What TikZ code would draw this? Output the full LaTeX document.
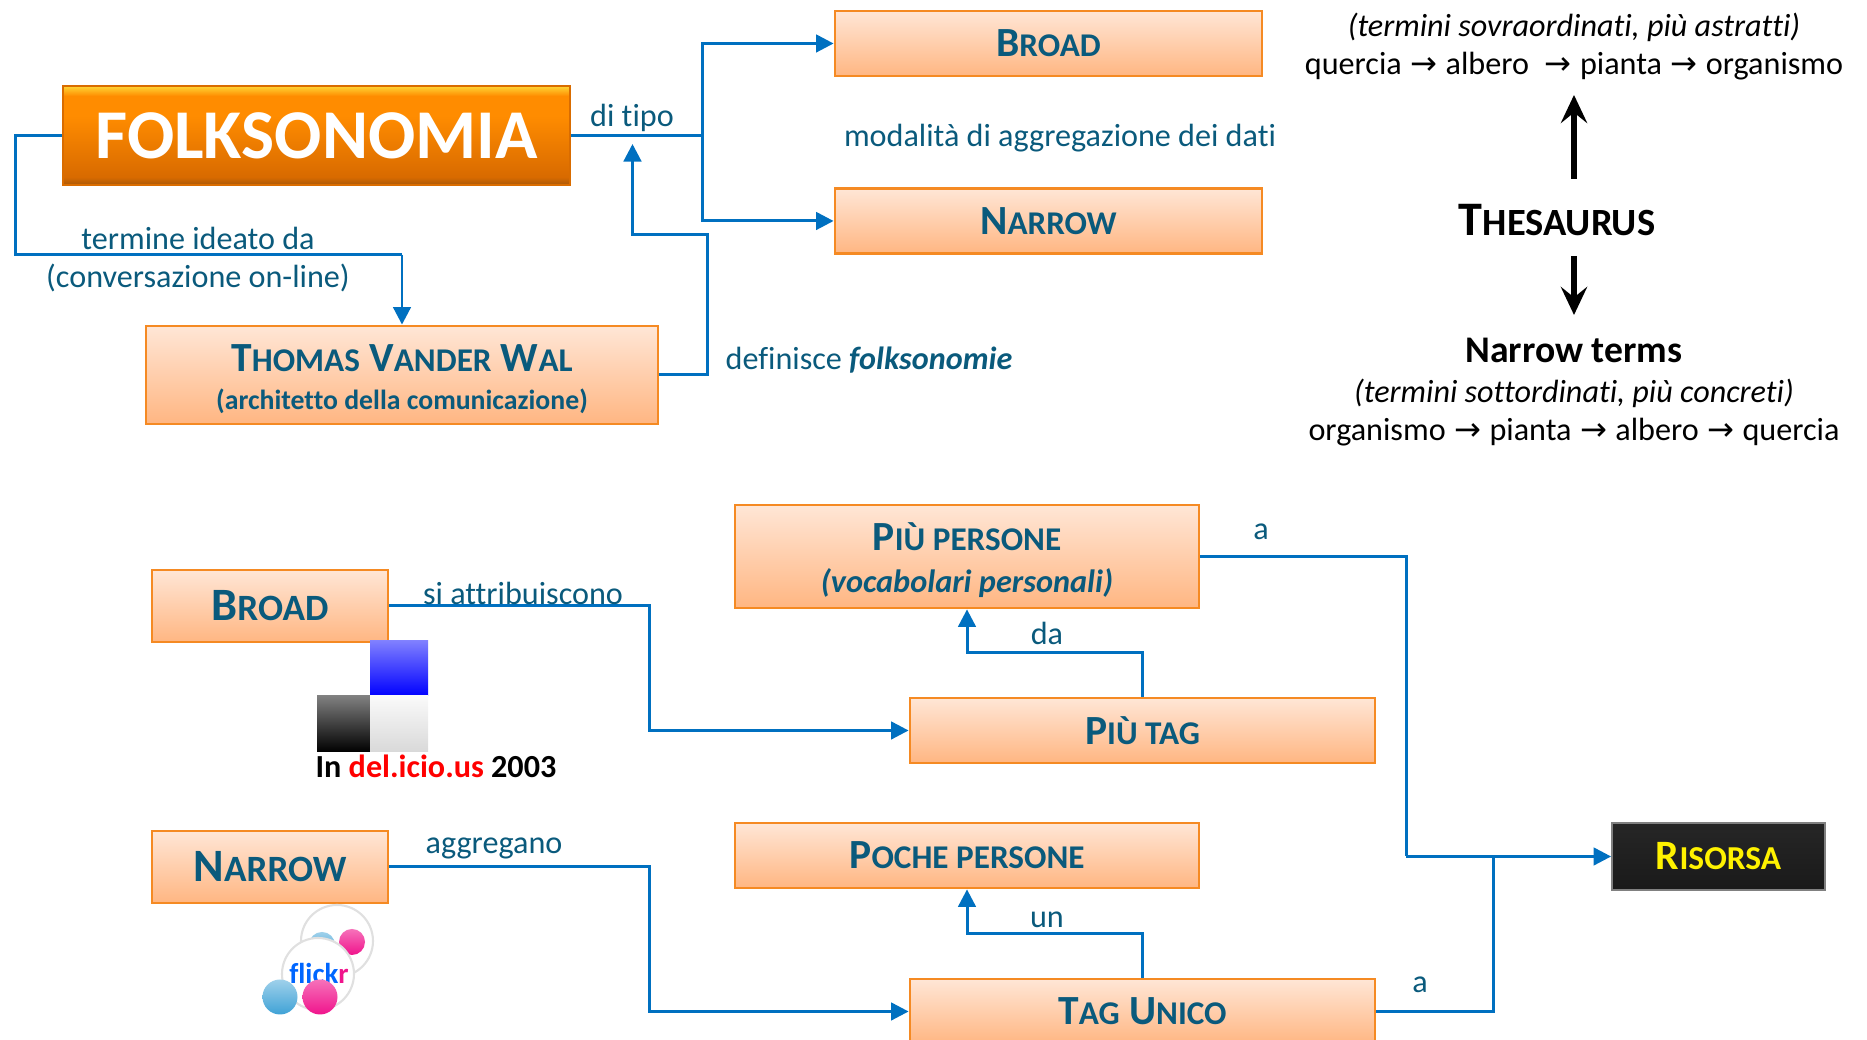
\documentclass[tikz,border=0pt]{standalone}
\usepackage{fontspec}
\setmainfont[Ligatures=NoCommon]{Carlito}
\newfontfamily\arrowfont{DejaVu Sans}
\usepackage{tikz}
\usetikzlibrary{arrows.meta}
\usetikzlibrary{positioning}
\definecolor{inktext}{HTML}{0A5A7C}
\definecolor{flowblue}{HTML}{0070C0}
\definecolor{edgeorange}{HTML}{F58A23}
\definecolor{peachtop}{HTML}{FFE6D6}
\definecolor{peachbot}{HTML}{FFB682}
\definecolor{folkdark}{HTML}{A85808}
\definecolor{folklow}{HTML}{D86A00}
\definecolor{folkmid}{HTML}{FF8C00}
\definecolor{folkhigh}{HTML}{FFD535}
\definecolor{flickblue}{HTML}{3FA2D6}
\definecolor{flickpink}{HTML}{F0148C}
\pgfdeclareverticalshading{folkshade}{100bp}{color(0bp)=(folkdark); color(25bp)=(folkdark);
  color(29bp)=(folklow); color(60bp)=(folkmid); color(70bp)=(folkmid); color(75bp)=(folkhigh); color(100bp)=(folkhigh)}
\tikzstyle{concept}=[rectangle,draw=edgeorange,line width=0.8pt,top color=peachtop,bottom color=peachbot,
  text=inktext,inner sep=0mm,align=center,font=\fontsize{11.8}{13}\selectfont\bfseries]
\tikzstyle{main}=[rectangle,draw=orange!85!black,line width=0.5pt,shading=folkshade,text=white,inner sep=0mm,
  font=\fontsize{19.9}{22}\selectfont\bfseries]
\tikzstyle{target}=[rectangle,draw=gray,line width=0.5pt,top color=black!85,bottom color=black!90,text=yellow,inner sep=0mm,
  font=\fontsize{11.9}{13}\selectfont\bfseries]
\tikzstyle{label}=[inner sep=0mm,text=inktext,align=center,font=\fontsize{9.15}{11}\selectfont]
\tikzstyle{note}=[inner sep=0mm,text=black,align=center,font=\fontsize{9.15}{11}\selectfont]
\tikzstyle{flow}=[line width=0.85pt,draw=flowblue,-{Triangle[length=5pt,width=5pt]}]
\tikzstyle{link}=[line width=0.85pt,draw=flowblue]
\tikzstyle{bigarrow}=[line width=1.5pt,-{Stealth[length=8pt,width=7.5pt,inset=3pt]}]
\newcommand \rarr {\hspace{2.4pt}{\arrowfont →}\hspace{2.4pt}}
\makeatletter
\newcommand \lowcaps [1] {{\fontsize{\fpeval{0.8*\f@size}}{0}\selectfont #1}}
\makeatother
\begin{document}
\begin{tikzpicture}
        \useasboundingbox (0,0) rectangle (18.67,10.40);
        \node[main,minimum width=5.07cm,minimum height=0.99cm] at (3.165,9.044) (folk) {FOLKSONOMIA};
        \node[concept,minimum width=4.27cm,minimum height=0.65cm] at (10.485,9.965) (broadtop) {B\lowcaps{ROAD}};
        \node[concept,minimum width=4.27cm,minimum height=0.65cm] at (10.485,8.19) (narrowtop) {N\lowcaps{ARROW}};
        \node[concept,minimum width=5.12cm,minimum height=0.98cm] at (4.02,6.65) (thomas) {\rule{0pt}{10pt}T\lowcaps{HOMAS} V\lowcaps{ANDER} W\lowcaps{AL}\\[-2pt]{\fontsize{7.9}{9}\selectfont (architetto della comunicazione)}};
        \node[concept,minimum width=4.64cm,minimum height=1.03cm] at (9.67,4.835) (piupersone) {\rule{0pt}{10pt}P\lowcaps{IÙ PERSONE}\\[-1pt]{\fontsize{9.2}{10}\selectfont\itshape (vocabolari personali)}};
        \node[concept,minimum width=4.65cm,minimum height=0.65cm] at (11.425,3.095) (piutag) {P\lowcaps{IÙ TAG}};
        \node[concept,minimum width=4.64cm,minimum height=0.65cm] at (9.67,1.845) (poche) {P\lowcaps{OCHE PERSONE}};
        \node[concept,minimum width=4.65cm,minimum height=0.65cm] at (11.425,0.285) (tagunico) {T\lowcaps{AG} U\lowcaps{NICO}};
        \node[concept,minimum width=2.36cm,minimum height=0.72cm,font=\fontsize{13.2}{14}\selectfont\bfseries] at (2.70,4.34) (broadlow) {B\lowcaps{ROAD}};
        \node[concept,minimum width=2.36cm,minimum height=0.72cm,font=\fontsize{13.2}{14}\selectfont\bfseries] at (2.70,1.73) (narrowlow) {N\lowcaps{ARROW}};
        \node[target,minimum width=2.13cm,minimum height=0.67cm] at (17.185,1.835) (risorsa) {R\lowcaps{ISORSA}};
        \coordinate (tiposplit) at (7.02,9.044);
        \coordinate (tipotip) at (6.325,8.96);
        \coordinate (wallup) at (7.07,8.054);
        \coordinate (wallturn) at (6.325,8.054);
        \coordinate (folkdown) at (0.155,7.85);
        \coordinate (folkturn) at (4.02,7.85);
        \coordinate (riserva) at (14.06,1.835);
        \coordinate (unicojoin) at (14.93,1.835);
        \coordinate (broadbend) at (6.49,3.095);
        \coordinate (narrowbend) at (6.49,0.285);
        \coordinate (tagtop) at (9.67,3.875);
        \coordinate (unicotop) at (9.67,1.065);
        \draw[flow] (folk.east) -- (tiposplit) |- (broadtop.west);
        \draw[flow] (tiposplit) |- (narrowtop.west);
        \draw[link] (folk.west) -| (folkdown) -- (folkturn);
        \draw[flow] (folkturn) -- (thomas.north);
        \draw[flow] (thomas.east) -| (wallup) -- (wallturn) -- (tipotip);
        \draw[link] (piupersone.east) -| (riserva);
        \draw[flow] (riserva) -- (risorsa.west);
        \draw[link] (tagunico.east) -| (unicojoin);
        \draw[flow] (broadlow.east) -| (broadbend) -- (piutag.west);
        \draw[flow] (narrowlow.east) -| (narrowbend) -- (tagunico.west);
        \draw[flow] (piutag.north) |- (tagtop) -- (piupersone.south);
        \draw[flow] (tagunico.north) |- (unicotop) -- (poche.south);
        \node[label] at (6.32,9.22) (ditipo) {di tipo};
        \node[label] at (10.60,9.02) (modalita) {modalità di aggregazione dei dati};
        \node[label] at (1.98,8.02) (ideato) {termine ideato da};
        \node[label] at (1.98,7.62) (conversazione) {(conversazione on-line)};
        \node[label] at (8.69,6.80) (definisce) {definisce \textbf{\textit{folksonomie}}};
        \node[label] at (12.61,5.08) (apiu) {a};
        \node[label] at (5.23,4.47) (attribuiscono) {si attribuiscono};
        \node[label] at (10.47,4.07) (da) {da};
        \node[label] at (4.94,1.92) (aggregano) {aggregano};
        \node[label] at (10.47,1.20) (un) {un};
        \node[label] at (14.20,0.55) (aunico) {a};
        \node[note,font=\fontsize{9.15}{11}\selectfont\itshape] at (15.74,10.13) (sovra) {(termini sovraordinati, più astratti)};
        \node[note] at (15.74,9.74) (quercia) {quercia\rarr albero \rarr pianta\rarr organismo};
        \node[note,font=\fontsize{13.7}{15}\selectfont\bfseries] at (15.57,8.20) (thesaurus) {T\lowcaps{HESAURUS}};
        \node[note,font=\fontsize{10.7}{12}\selectfont\bfseries] at (15.74,6.90) (terms) {Narrow terms};
        \node[note,font=\fontsize{9.15}{11}\selectfont\itshape] at (15.74,6.47) (sotto) {(termini sottordinati, più concreti)};
        \node[note] at (15.74,6.08) (organismo) {organismo\rarr pianta\rarr albero\rarr quercia};
        \coordinate (upfrom) at (15.74,8.61);
        \coordinate (upto) at (15.74,9.45);
        \coordinate (downfrom) at (15.74,7.84);
        \coordinate (downto) at (15.74,7.25);
        \draw[bigarrow] (upfrom) -- (upto);
        \draw[bigarrow] (downfrom) -- (downto);
        \shade[top color=blue!50,bottom color=blue] (3.70,3.99) rectangle (4.28,3.44);
        \shade[top color=black!50,bottom color=black] (3.17,3.44) rectangle (3.70,2.88);
        \shade[top color=black!2,bottom color=black!15] (3.70,3.44) rectangle (4.28,2.88);
        \node[note,font=\fontsize{9.15}{11}\selectfont\bfseries] at (4.36,2.74) (delicious) {In \textcolor{red}{del.icio.us} 2003};
        \draw[black!12,line width=0.6pt,fill=white] (3.37,0.99) circle (0.36);
        \shade[top color=flickblue!50,bottom color=flickblue] (3.22,0.95) circle (0.13);
        \shade[top color=flickpink!60,bottom color=flickpink] (3.52,0.98) circle (0.13);
        \draw[black!12,line width=0.6pt,fill=white] (3.18,0.66) circle (0.36);
        \node[inner sep=0mm,text=blue!60!cyan,font=\fontsize{8.2}{9}\selectfont\bfseries] at (3.19,0.66) (flickr) {flick\textcolor{flickpink}{r}};
        \shade[top color=flickblue!50,bottom color=flickblue] (2.80,0.43) circle (0.175);
        \shade[top color=flickpink!60,bottom color=flickpink] (3.20,0.43) circle (0.175);
      \end{tikzpicture}
\end{document}
